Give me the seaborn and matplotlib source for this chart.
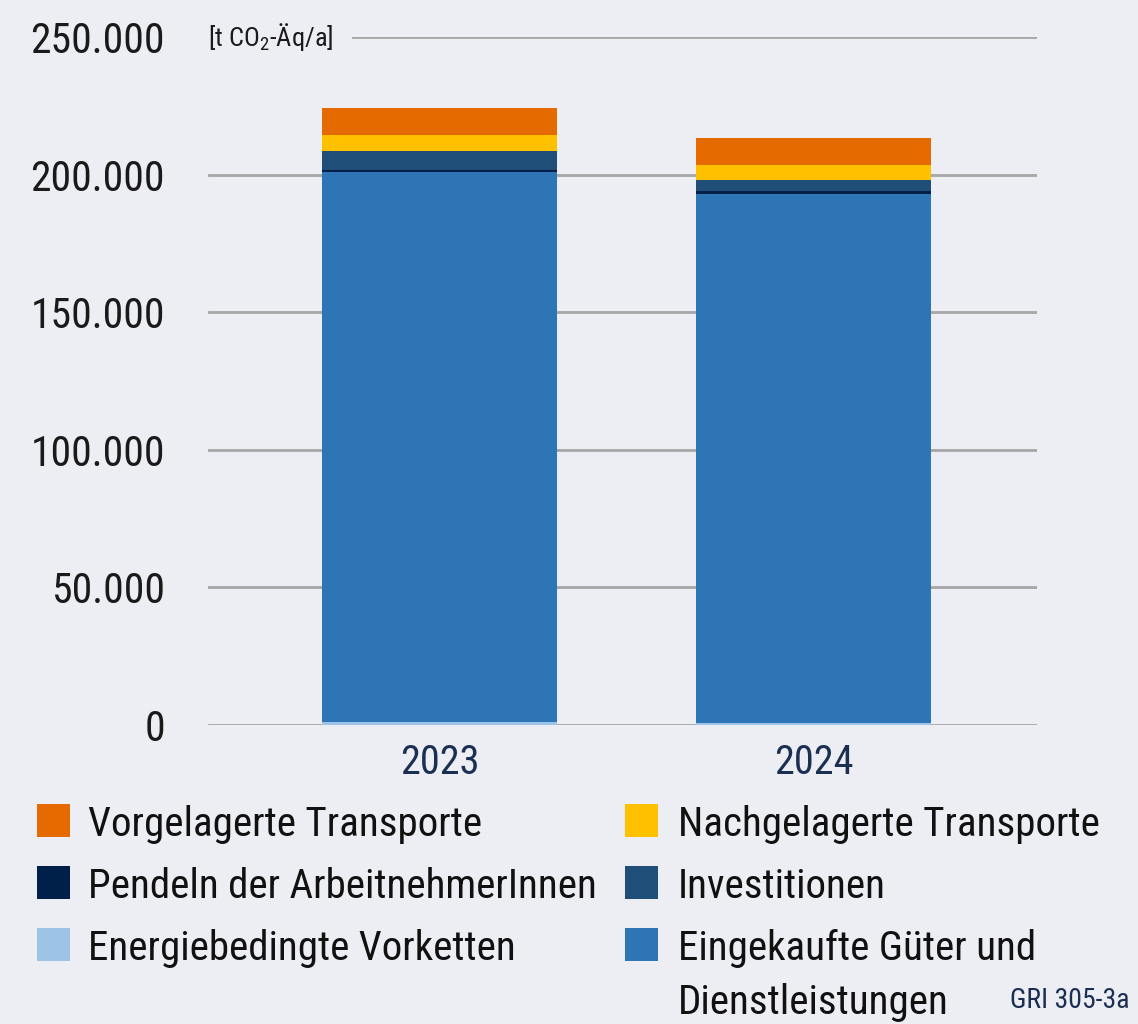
import numpy as np
import pandas as pd
import matplotlib
matplotlib.use("Agg")
import matplotlib.pyplot as plt
import seaborn as sns
from matplotlib.patches import Rectangle

years = ["2023", "2024"]
# stacking order bottom -> top
categories = [
    "Energiebedingte Vorketten",
    "Eingekaufte Güter und\nDienstleistungen",
    "Pendeln der ArbeitnehmerInnen",
    "Investitionen",
    "Nachgelagerte Transporte",
    "Vorgelagerte Transporte",
]
energie = [1100, 730]
eingekauft = [200000, 192300]
pendeln = [730, 1100]
investitionen = [6900, 4000]
nachgelagerte = [5800, 5450]
vorgelagerte = [9800, 9800]
colors = ["#9dc3e6", "#2e75b6", "#00204a", "#1f4e79", "#ffc000", "#e56a00"]
yticks = [0, 50000, 100000, 150000, 200000, 250000]
ytick_labels = ["0", "50.000", "100.000", "150.000", "200.000", "250.000"]

BG = "#edeef3"
sns.set_theme(style="white")
FONT = ["Liberation Sans Narrow", "Roboto Condensed", "Liberation Sans", "DejaVu Sans"]
plt.rcParams["font.family"] = FONT

fig = plt.figure(figsize=(11.38, 10.24), dpi=100, facecolor=BG)
ax = fig.add_axes([208 / 1138, 1 - 725 / 1024, (1037 - 208) / 1138, (725 - 37) / 1024])
ax.set_facecolor(BG)

series = [energie, eingekauft, pendeln, investitionen, nachgelagerte, vorgelagerte]
cum = np.cumsum(np.array(series, dtype=float), axis=0)
for i in range(len(series) - 1, -1, -1):
    df = pd.DataFrame({"year": years, "value": cum[i]})
    sns.barplot(data=df, x="year", y="value", color=colors[i], saturation=1,
                width=0.63, ax=ax, zorder=3, linewidth=0)

ax.set_xlim(-0.619, 1.598)
ax.set_ylim(0, 250000)
ax.set_yticks(yticks)
ax.set_yticklabels(ytick_labels)
ax.set_xlabel("")
ax.set_ylabel("")
for s in ax.spines.values():
    s.set_visible(False)
ax.yaxis.grid(True, color="#a6a6a6", linewidth=2, zorder=0)
ax.set_axisbelow(True)
ax.tick_params(axis="y", length=0, pad=31, labelsize=30, labelcolor="#1a1a1a")
ax.tick_params(axis="x", length=0, pad=13, labelsize=29, labelcolor="#1b2f52")

ax.text(-0.619, 250000, r"[t CO$_\mathregular{2}$-Äq/a]", fontsize=19, color="#1a1a1a",
        ha="left", va="center", zorder=5,
        bbox=dict(facecolor=BG, edgecolor="none", boxstyle="square,pad=0.7"))

# legend drawn manually
rows_y = [804, 866, 928]
col_patch_x = [37, 625]
col_text_x = [88, 678]
layout = [(5, 0, 0), (4, 1, 0), (2, 0, 1), (3, 1, 1), (0, 0, 2), (1, 1, 2)]
W, H = 1138, 1024
for idx, col, row in layout:
    y0 = rows_y[row]
    fig.patches.append(Rectangle((col_patch_x[col] / W, 1 - (y0 + 33) / H), 33 / W, 33 / H,
                                 transform=fig.transFigure, facecolor=colors[idx],
                                 edgecolor="none"))
    fig.text(col_text_x[col] / W, 1 - (y0 + 16.5) / H, categories[idx].split("\n")[0],
             fontsize=29.5, color="#111111", ha="left", va="center_baseline")
    if "\n" in categories[idx]:
        fig.text(col_text_x[col] / W, 1 - (y0 + 16.5 + 54) / H, categories[idx].split("\n")[1],
                 fontsize=29.5, color="#111111", ha="left", va="center_baseline")

fig.text(1130 / W, 1 - 997 / H, "GRI 305-3a", fontsize=20, color="#1b2f52",
         ha="right", va="center_baseline")

fig.savefig("out.png", dpi=100, facecolor=BG)
